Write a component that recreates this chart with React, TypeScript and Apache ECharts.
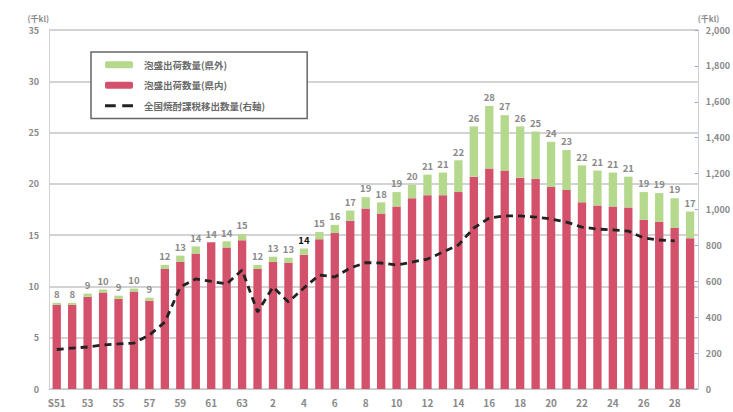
import React, { useEffect, useRef } from "react";
import * as echarts from "echarts";

const categories = [
  "S51", "52", "53", "54", "55", "56", "57", "58", "59", "60", "61", "62", "63",
  "元", "2", "3", "4", "5", "6", "7", "8", "9", "10", "11", "12", "13", "14",
  "15", "16", "17", "18", "19", "20", "21", "22", "23", "24", "25", "26", "27", "28", "29",
];

// 泡盛出荷数量(県内) 千kl
const kennai = [
  8.2, 8.2, 9.0, 9.4, 8.8, 9.5, 8.6, 11.7, 12.4, 13.2, 14.3, 13.8, 14.5,
  11.7, 12.4, 12.3, 13.1, 14.6, 15.2, 16.4, 17.6, 17.1, 17.8, 18.6, 18.9, 18.9, 19.2,
  20.7, 21.5, 21.3, 20.6, 20.5, 19.7, 19.4, 18.2, 17.9, 17.8, 17.7, 16.5, 16.3, 15.7, 14.7,
];

// 泡盛出荷数量(県外) 千kl
const kengai = [
  0.2, 0.2, 0.3, 0.3, 0.3, 0.3, 0.3, 0.4, 0.6, 0.7, 0.0, 0.6, 0.6,
  0.4, 0.5, 0.5, 0.6, 0.7, 0.8, 1.0, 1.1, 1.1, 1.4, 1.3, 2.0, 2.2, 3.1,
  4.9, 6.1, 5.4, 5.0, 4.6, 4.4, 3.9, 3.6, 3.4, 3.3, 3.0, 2.7, 2.8, 2.9, 2.6,
];

// 全国焼酎課税移出数量(右軸) 千kl
const national = [
  220, 228, 234, 245, 251, 256, 301, 373, 568, 613, 600, 585, 663,
  429, 568, 485, 563, 635, 624, 674, 704, 702, 691, 707, 724, 763, 802,
  897, 953, 964, 964, 958, 947, 930, 902, 891, 886, 880, 841, 830, 825, null,
];

const leftTicks = { min: 0, max: 35, interval: 5 };
const rightTicks = { min: 0, max: 2000, interval: 200 };

const highlightIndex = 16; // H4 label drawn in black

const FONT = "'Noto Sans CJK JP', 'Noto Sans', sans-serif";
const GRAY = "#8a8a8a";
const DASH_ICON = "path://M0,0 H10 V3 H0 Z M16,0 H26 V3 H16 Z";

export default function App() {
  const ref = useRef<HTMLDivElement>(null);

  useEffect(() => {
    if (!ref.current) return;
    const chart = echarts.init(ref.current, null, { renderer: "svg" });

    const totals = kennai.map((v, i) => v + kengai[i]);

    chart.setOption({
      animation: false,
      backgroundColor: "#ffffff",
      textStyle: { fontFamily: FONT },
      grid: { left: 49, right: 33, top: 30, bottom: 23 },
      legend: {
        left: 91,
        top: 52,
        orient: "vertical",
        padding: [8, 42, 8, 14],
        itemGap: 11,
        itemWidth: 28,
        itemHeight: 7,
        borderColor: "#666",
        borderWidth: 1.5,
        backgroundColor: "#fff",
        data: [
          { name: "泡盛出荷数量(県外)" },
          { name: "泡盛出荷数量(県内)" },
          { name: "全国焼酎課税移出数量(右軸)", icon: DASH_ICON, itemStyle: { color: "#222" } },
        ],
        textStyle: {
          fontSize: 9.5,
          fontWeight: "bold",
          color: "#6a6a6a",
          fontFamily: FONT,
          padding: [0, 0, 0, 6],
        },
      },
      xAxis: {
        type: "category",
        data: categories,
        axisLine: { lineStyle: { color: "#c8c8c8", width: 1 } },
        axisTick: { show: false },
        axisLabel: {
          interval: 1,
          color: GRAY,
          fontWeight: "bold",
          fontSize: 10,
          margin: 8,
          fontFamily: FONT,
        },
      },
      yAxis: [
        {
          type: "value",
          ...leftTicks,
          axisLine: { show: true, lineStyle: { color: "#d0d0d0" } },
          axisTick: { show: false },
          splitLine: { lineStyle: { color: "#c4c4c4", width: 1.5 } },
          axisLabel: { color: GRAY, fontWeight: "bold", fontSize: 9, margin: 10, fontFamily: FONT },
          name: "(千kl)",
          nameLocation: "end",
          nameGap: 8,
          nameTextStyle: { color: GRAY, fontSize: 8, fontWeight: "bold", align: "right" },
        },
        {
          type: "value",
          ...rightTicks,
          position: "right",
          axisLine: { show: true, lineStyle: { color: "#c8cde0" } },
          axisTick: { show: true, length: 3, inside: true, lineStyle: { color: "#9aa0b8" } },
          splitLine: { show: false },
          axisLabel: {
            color: GRAY,
            fontWeight: "bold",
            fontSize: 9,
            margin: 8,
            fontFamily: FONT,
            formatter: (v: number) => v.toLocaleString("en-US"),
          },
          name: "(千kl)",
          nameLocation: "end",
          nameGap: 8,
          nameTextStyle: { color: GRAY, fontSize: 8, fontWeight: "bold", align: "left" },
        },
      ],
      series: [
        {
          name: "泡盛出荷数量(県内)",
          type: "bar",
          stack: "awamori",
          barWidth: "54%",
          itemStyle: { color: "#d4516c" },
          data: kennai,
        },
        {
          name: "泡盛出荷数量(県外)",
          type: "bar",
          stack: "awamori",
          barWidth: "54%",
          itemStyle: { color: "#b5d98c" },
          data: kengai.map((v, i) => ({
            value: v,
            label: i === highlightIndex ? { color: "#111" } : undefined,
          })),
          label: {
            show: true,
            position: "top",
            distance: 4,
            fontSize: 9.5,
            fontWeight: "bold",
            color: GRAY,
            fontFamily: FONT,
            formatter: (p: any) => String(Math.round(totals[p.dataIndex])),
          },
        },
        {
          name: "全国焼酎課税移出数量(右軸)",
          type: "line",
          yAxisIndex: 1,
          symbol: "none",
          connectNulls: false,
          lineStyle: { color: "#222", width: 2.8, type: [7, 5] },
          itemStyle: { color: "#222" },
          data: national,
        },
      ],
    });

    return () => chart.dispose();
  }, []);

  return (
    <div
      ref={ref}
      style={{ position: "fixed", left: 0, top: 0, width: 733, height: 412 }}
    />
  );
}
